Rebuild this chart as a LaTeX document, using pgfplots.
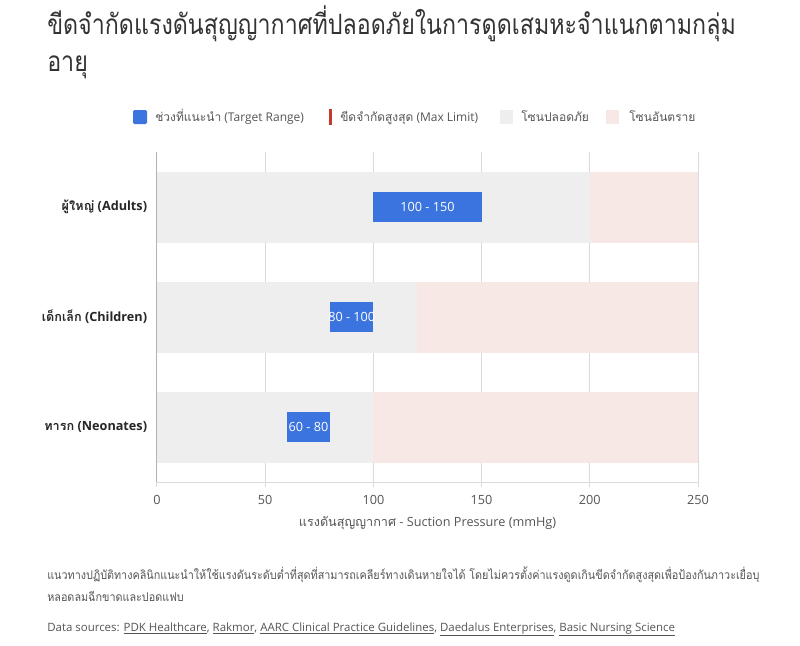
\documentclass[border=0pt]{standalone}
\usepackage{fontspec}
\setmainfont{Open Sans}
\newfontfamily\thai[Script=Thai]{Loma}
\newfontfamily\thaititle[Script=Thai,FakeStretch=0.83]{Loma}
\newfontfamily\thainote[Script=Thai,FakeStretch=0.9]{Loma}
\usepackage{pgfplots}
\pgfplotsset{compat=1.18}

\definecolor{target}{HTML}{3B73DF}
\definecolor{maxred}{HTML}{C5392F}
\definecolor{safegray}{HTML}{EEEEEE}
\definecolor{dangerpink}{HTML}{F8E8E5}
\definecolor{titlecol}{HTML}{333333}
\definecolor{txt}{HTML}{555555}
\definecolor{gridc}{HTML}{DADADA}

\begin{document}
\begin{tikzpicture}
\path[use as bounding box, fill=white] (0,0) rectangle (600pt,-484.5pt);

\begin{scope}[x=0.75pt,y=-0.75pt]
% title
\node[anchor=base west, inner sep=0pt, text=titlecol,
  font={\thaititle\fontsize{21}{27}\selectfont}] at (47,35)
  {ขีดจำกัดแรงดันสุญญากาศที่ปลอดภัยในการดูดเสมหะจำแนกตามกลุ่ม};
\node[anchor=base west, inner sep=0pt, text=titlecol,
  font={\thaititle\fontsize{21}{27}\selectfont}] at (47,71)
  {อายุ};

% legend
\fill[target, rounded corners=1pt] (133,110) rectangle (147,124);
\node[anchor=base west, inner sep=0pt, text=txt, font=\fontsize{9}{11}\selectfont] at (155,121)
  {{\thai ช่วงที่แนะนำ} (Target Range)};
\fill[maxred] (329,109) rectangle (332,125);
\node[anchor=base west, inner sep=0pt, text=txt, font=\fontsize{9}{11}\selectfont] at (340,121)
  {{\thai ขีดจำกัดสูงสุด} (Max Limit)};
\fill[safegray] (500,110) rectangle (513,124);
\node[anchor=base west, inner sep=0pt, text=txt, font=\fontsize{9}{11}\selectfont] at (521,121)
  {{\thai โซนปลอดภัย}};
\fill[dangerpink] (606,110) rectangle (619,124);
\node[anchor=base west, inner sep=0pt, text=txt, font=\fontsize{9}{11}\selectfont] at (629,121)
  {{\thai โซนอันตราย}};

% footnote
\node[anchor=base west, inner sep=0pt, text=txt,
  font={\thainote\fontsize{9}{16.5}\selectfont}] at (47,579)
  {แนวทางปฏิบัติทางคลินิกแนะนำให้ใช้แรงดันระดับต่ำที่สุดที่สามารถเคลียร์ทางเดินหายใจได้ โดยไม่ควรตั้งค่าแรงดูดเกินขีดจำกัดสูงสุดเพื่อป้องกันภาวะเยื่อบุ};
\node[anchor=base west, inner sep=0pt, text=txt,
  font={\thainote\fontsize{9}{16.5}\selectfont}] at (47,601)
  {หลอดลมฉีกขาดและปอดแฟบ};
\node[anchor=base west, inner sep=0pt, text=txt, font=\fontsize{8.6}{10}\selectfont] at (47,631)
  {Data sources: \underline{PDK Healthcare}, \underline{Rakmor}, \underline{AARC Clinical Practice Guidelines}, \underline{Daedalus Enterprises}, \underline{Basic Nursing Science}};
\end{scope}

\begin{axis}[
    at={(117.75pt,-361.5pt)}, anchor=south west,
    scale only axis,
    width=405.75pt, height=247.5pt,
    xmin=0, xmax=250,
    ymin=-0.5, ymax=2.5,
    xtick={0,50,100,150,200,250},
    ytick={0,1,2},
    yticklabels={{{\thai ทารก} (Neonates)},{{\thai เด็กเล็ก} (Children)},{{\thai ผู้ใหญ่} (Adults)}},
    axis lines*=left,
    axis line style={gridc, line width=0.75pt},
    y axis line style={color=black!30},
    xmajorgrids,
    grid style={gridc, line width=0.75pt},
    tick align=outside,
    major tick length=3.75pt,
    xtick style={gridc, line width=0.75pt},
    ytick style={draw=none},
    xticklabel style={anchor=base, inner sep=0pt, yshift=-13pt, text=txt, font=\fontsize{9.5}{11}\selectfont},
    yticklabel style={inner sep=0pt, xshift=-3.5pt, text=black!85, font=\bfseries\fontsize{9.5}{11}\selectfont},
    /pgf/number format/assume math mode=true,
    xlabel={{\thai แรงดันสุญญากาศ} - Suction Pressure (mmHg)},
    xlabel style={at={(axis description cs:0.5,0)}, anchor=base, inner sep=0pt, yshift=-33pt, text=txt, font=\fontsize{9.5}{11}\selectfont},
    clip=false,
]
% danger zones
\addplot[dangerpink, line width=53.25pt, forget plot] coordinates {(200,2) (250,2)};
\addplot[dangerpink, line width=53.25pt, forget plot] coordinates {(120,1) (250,1)};
\addplot[dangerpink, line width=53.25pt, forget plot] coordinates {(100,0) (250,0)};
% safe zones
\addplot[safegray, line width=53.25pt, forget plot] coordinates {(0,2) (200,2)};
\addplot[safegray, line width=53.25pt, forget plot] coordinates {(0,1) (120,1)};
\addplot[safegray, line width=53.25pt, forget plot] coordinates {(0,0) (100,0)};
% target ranges
\addplot[target, line width=22.5pt, forget plot] coordinates {(100,2) (150,2)}
  node[pos=0.5, text=white, font=\fontsize{9.5}{11}\selectfont] {100 - 150};
\addplot[target, line width=22.5pt, forget plot] coordinates {(80,1) (100,1)}
  node[pos=0.5, text=white, font=\fontsize{9.5}{11}\selectfont] {80 - 100};
\addplot[target, line width=22.5pt, forget plot] coordinates {(60,0) (80,0)}
  node[pos=0.5, text=white, font=\fontsize{9.5}{11}\selectfont] {60 - 80};
\end{axis}
\end{tikzpicture}
\end{document}
